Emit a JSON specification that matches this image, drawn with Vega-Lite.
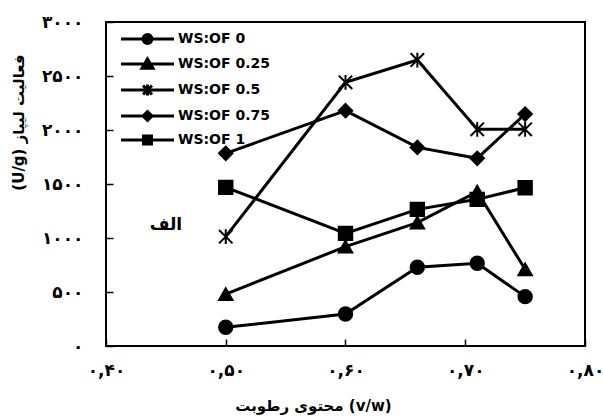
{
  "$schema": "https://vega.github.io/schema/vega-lite/v6.json",
  "autosize": {"type": "none"},
  "padding": {"left": 106, "top": 22, "right": 18, "bottom": 73},
  "width": 479,
  "height": 324,
  "background": "white",
  "config": {
    "view": {"stroke": "black", "strokeWidth": 2, "fill": "transparent"},
    "locale": {"number": {"decimal": ",", "thousands": "", "grouping": [3], "currency": ["", ""], "numerals": ["۰", "۱", "۲", "۳", "۴", "۵", "۶", "۷", "۸", "۹"]}},
    "axis": {"grid": false, "domain": false, "ticks": true, "tickColor": "black", "tickWidth": 1.5, "tickSize": 7, "offset": -7, "labelFlush": false, "zindex": 1,
      "labelFont": "DejaVu Sans", "labelFontWeight": "bold", "labelFontSize": 17, "labelColor": "black",
      "titleFont": "DejaVu Sans", "titleFontWeight": "bold", "titleFontSize": 15, "titleColor": "black"},
    "axisX": {"labelPadding": 16},
    "axisY": {"labelPadding": 23},
    "legend": {"rowPadding": 3, "symbolSize": 100, "labelOffset": 45, "labelFont": "DejaVu Sans", "labelFontWeight": "bold", "labelFontSize": 14, "labelColor": "black", "symbolStrokeWidth": 3}
  },
  "datasets": {
    "main": [
      {"x": 0.50, "y": 173, "series": "WS:OF 0"},
      {"x": 0.60, "y": 296, "series": "WS:OF 0"},
      {"x": 0.66, "y": 729, "series": "WS:OF 0"},
      {"x": 0.71, "y": 766, "series": "WS:OF 0"},
      {"x": 0.75, "y": 457, "series": "WS:OF 0"},
      {"x": 0.50, "y": 480, "series": "WS:OF 0.25"},
      {"x": 0.60, "y": 920, "series": "WS:OF 0.25"},
      {"x": 0.66, "y": 1142, "series": "WS:OF 0.25"},
      {"x": 0.71, "y": 1429, "series": "WS:OF 0.25"},
      {"x": 0.75, "y": 710, "series": "WS:OF 0.25"},
      {"x": 0.50, "y": 1012, "series": "WS:OF 0.5"},
      {"x": 0.60, "y": 2441, "series": "WS:OF 0.5"},
      {"x": 0.66, "y": 2648, "series": "WS:OF 0.5"},
      {"x": 0.71, "y": 2006, "series": "WS:OF 0.5"},
      {"x": 0.75, "y": 2006, "series": "WS:OF 0.5"},
      {"x": 0.50, "y": 1784, "series": "WS:OF 0.75"},
      {"x": 0.60, "y": 2179, "series": "WS:OF 0.75"},
      {"x": 0.66, "y": 1839, "series": "WS:OF 0.75"},
      {"x": 0.71, "y": 1738, "series": "WS:OF 0.75"},
      {"x": 0.75, "y": 2148, "series": "WS:OF 0.75"},
      {"x": 0.50, "y": 1469, "series": "WS:OF 1"},
      {"x": 0.60, "y": 1043, "series": "WS:OF 1"},
      {"x": 0.66, "y": 1265, "series": "WS:OF 1"},
      {"x": 0.71, "y": 1358, "series": "WS:OF 1"},
      {"x": 0.75, "y": 1466, "series": "WS:OF 1"}
    ],
    "label": [{"x": 0.45, "y": 1120, "text": "الف"}]
  },
  "layer": [
    {
      "data": {"name": "main"},
      "mark": {"type": "line", "color": "black", "strokeWidth": 3},
      "encoding": {
        "x": {"field": "x", "type": "quantitative",
          "scale": {"domain": [0.4, 0.8], "nice": false, "zero": false},
          "axis": {"values": [0.4, 0.5, 0.6, 0.7, 0.8], "title": "محتوی رطوبت (v/w)", "format": ".2f",
            "offset": -7, "zindex": 1, "titleX": 207, "titleY": 59, "titleBaseline": "top"}},
        "y": {"field": "y", "type": "quantitative",
          "scale": {"domain": [0, 3000], "nice": false},
          "axis": {"values": [0, 500, 1000, 1500, 2000, 2500, 3000], "title": "(U/g) فعالیت لیپاز", "format": "d",
            "offset": -7, "zindex": 1, "titleX": -87, "titleY": 100}},
        "detail": {"field": "series", "type": "nominal"}
      }
    },
    {
      "data": {"name": "main"},
      "mark": {"type": "point", "filled": true, "color": "black", "stroke": "black", "strokeWidth": 2, "opacity": 1, "size": 180},
      "encoding": {
        "x": {"field": "x", "type": "quantitative"},
        "y": {"field": "y", "type": "quantitative"},
        "shape": {"field": "series", "type": "nominal",
          "scale": {"domain": ["WS:OF 0", "WS:OF 0.25", "WS:OF 0.5", "WS:OF 0.75", "WS:OF 1"],
            "range": ["circle", "triangle-up", "M-1,-1L1,1M-1,1L1,-1M0,-1.1L0,1.1", "diamond", "square"]},
          "legend": null}
      }
    },
    {
      "data": {"name": "main"},
      "mark": {"type": "point", "filled": false, "color": "black", "stroke": "black", "strokeWidth": 3, "opacity": 0},
      "encoding": {
        "x": {"field": "x", "type": "quantitative"},
        "y": {"field": "y", "type": "quantitative"},
        "shape": {"field": "series", "type": "nominal",
          "scale": {"domain": ["WS:OF 0", "WS:OF 0.25", "WS:OF 0.5", "WS:OF 0.75", "WS:OF 1"],
            "range": [
              "M-1,0H9.6M4.6,0A0.3,0.3,0,1,1,4.0,0A0.3,0.3,0,1,1,4.6,0ZM5.2,0A0.9,0.9,0,1,1,3.4,0A0.9,0.9,0,1,1,5.2,0Z",
              "M-1,0H9.6M4.3,-1.0L5.4,0.85L3.2,0.85ZM4.3,-0.3L4.7,0.45L3.9,0.45Z",
              "M-1,0H9.6M3.4,-0.9L5.2,0.9M3.4,0.9L5.2,-0.9M4.3,-1.1V1.1",
              "M-1,0H9.6M4.3,-0.9L5.2,0L4.3,0.9L3.4,0ZM4.3,-0.3L4.6,0L4.3,0.3L4.0,0Z",
              "M-1,0H9.6M3.5,-0.8H5.1V0.8H3.5ZM4.05,-0.25H4.55V0.25H4.05Z"
            ]},
          "legend": {"title": null, "orient": "none", "legendX": 13, "legendY": 10,
            "symbolOpacity": 1, "symbolStrokeColor": "black"}}
      }
    },
    {
      "data": {"name": "label"},
      "mark": {"type": "text", "font": "DejaVu Sans", "fontWeight": "bold", "fontSize": 17, "color": "black"},
      "encoding": {
        "x": {"field": "x", "type": "quantitative"},
        "y": {"field": "y", "type": "quantitative"},
        "text": {"field": "text"}
      }
    }
  ],
  "resolve": {"scale": {"shape": "independent"}}
}
